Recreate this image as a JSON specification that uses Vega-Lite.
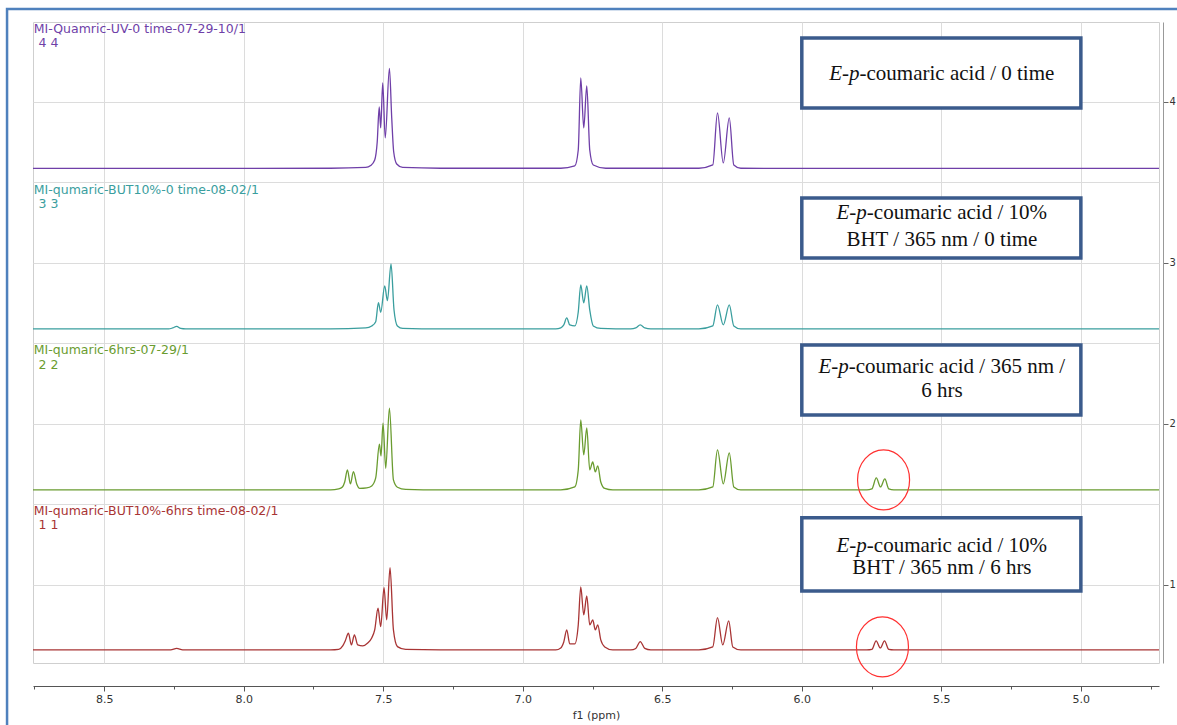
{
  "$schema": "https://vega.github.io/schema/vega-lite/v6.json",
  "width": 1126,
  "height": 641,
  "autosize": {"type": "none"},
  "padding": {"left": 33, "top": 22, "right": 18, "bottom": 62},
  "background": "white",
  "config": {"view": {"stroke": "#cfcfcf", "strokeWidth": 1}},
  "datasets": {
    "frame": [{"x": 8.848, "x2": 4.55, "y": 4.578, "y2": 0.0}],
    "spec": [
      {"s":"4","x":8.755,"y":3.5867},{"s":"4","x":7.6882,"y":3.5879},{"s":"4","x":7.5627,"y":3.5929},{"s":"4","x":7.5448,"y":3.6053},{"s":"4","x":7.5305,"y":3.6395},{"s":"4","x":7.5215,"y":3.7514},{"s":"4","x":7.5143,"y":3.9689},{"s":"4","x":7.509,"y":3.8384},{"s":"4","x":7.5018,"y":4.1181},{"s":"4","x":7.4928,"y":3.7763},{"s":"4","x":7.4778,"y":4.2082},{"s":"4","x":7.4695,"y":3.9006},{"s":"4","x":7.4624,"y":3.6892},{"s":"4","x":7.4516,"y":3.6147},{"s":"4","x":7.4301,"y":3.5929},{"s":"4","x":7.2939,"y":3.5879},{"s":"4","x":6.8638,"y":3.5879},{"s":"4","x":6.8136,"y":3.6022},{"s":"4","x":6.8011,"y":3.7017},{"s":"4","x":6.7921,"y":4.1492},{"s":"4","x":6.7814,"y":3.8384},{"s":"4","x":6.7706,"y":4.0994},{"s":"4","x":6.7599,"y":3.7017},{"s":"4","x":6.7473,"y":3.6085},{"s":"4","x":6.7025,"y":3.5879},{"s":"4","x":6.3688,"y":3.5879},{"s":"4","x":6.319,"y":3.6085},{"s":"4","x":6.3022,"y":3.9316},{"s":"4","x":6.2814,"y":3.6209},{"s":"4","x":6.2599,"y":3.9006},{"s":"4","x":6.2437,"y":3.6085},{"s":"4","x":6.2186,"y":3.5879},{"s":"4","x":4.72,"y":3.5867},
      {"s":"3","x":8.755,"y":2.5892},{"s":"3","x":8.2688,"y":2.5892},{"s":"3","x":8.2545,"y":2.5954},{"s":"3","x":8.2401,"y":2.6047},{"s":"3","x":8.2258,"y":2.5923},{"s":"3","x":8.2079,"y":2.5892},{"s":"3","x":7.6882,"y":2.5892},{"s":"3","x":7.5627,"y":2.5954},{"s":"3","x":7.5412,"y":2.6078},{"s":"3","x":7.5269,"y":2.6346},{"s":"3","x":7.5172,"y":2.7526},{"s":"3","x":7.509,"y":2.693},{"s":"3","x":7.4946,"y":2.8564},{"s":"3","x":7.4849,"y":2.7651},{"s":"3","x":7.472,"y":2.9932},{"s":"3","x":7.4613,"y":2.7073},{"s":"3","x":7.4491,"y":2.6078},{"s":"3","x":7.4301,"y":2.5923},{"s":"3","x":7.2939,"y":2.5892},{"s":"3","x":6.8817,"y":2.5892},{"s":"3","x":6.8638,"y":2.5954},{"s":"3","x":6.853,"y":2.6141},{"s":"3","x":6.8423,"y":2.6576},{"s":"3","x":6.8315,"y":2.6141},{"s":"3","x":6.8136,"y":2.6078},{"s":"3","x":6.8011,"y":2.6948},{"s":"3","x":6.7921,"y":2.8627},{"s":"3","x":6.7814,"y":2.7508},{"s":"3","x":6.7706,"y":2.8564},{"s":"3","x":6.7599,"y":2.7073},{"s":"3","x":6.7473,"y":2.6078},{"s":"3","x":6.7204,"y":2.5923},{"s":"3","x":6.6129,"y":2.5892},{"s":"3","x":6.595,"y":2.5954},{"s":"3","x":6.5789,"y":2.6141},{"s":"3","x":6.5627,"y":2.5954},{"s":"3","x":6.5412,"y":2.5892},{"s":"3","x":6.3688,"y":2.5892},{"s":"3","x":6.319,"y":2.6078},{"s":"3","x":6.3022,"y":2.7383},{"s":"3","x":6.2814,"y":2.6141},{"s":"3","x":6.2599,"y":2.7383},{"s":"3","x":6.2437,"y":2.6078},{"s":"3","x":6.2186,"y":2.5892},{"s":"3","x":4.72,"y":2.5892},
      {"s":"2","x":8.755,"y":1.5886},{"s":"2","x":7.6882,"y":1.5886},{"s":"2","x":7.6595,"y":1.5948},{"s":"2","x":7.6462,"y":1.6072},{"s":"2","x":7.638,"y":1.6383},{"s":"2","x":7.6283,"y":1.7129},{"s":"2","x":7.6176,"y":1.6259},{"s":"2","x":7.6068,"y":1.7023},{"s":"2","x":7.595,"y":1.6259},{"s":"2","x":7.5842,"y":1.5979},{"s":"2","x":7.5591,"y":1.601},{"s":"2","x":7.5412,"y":1.6134},{"s":"2","x":7.5269,"y":1.6631},{"s":"2","x":7.5136,"y":1.8726},{"s":"2","x":7.5079,"y":1.7999},{"s":"2","x":7.5007,"y":2.0031},{"s":"2","x":7.491,"y":1.7234},{"s":"2","x":7.4778,"y":2.0963},{"s":"2","x":7.4634,"y":1.6507},{"s":"2","x":7.4491,"y":1.6053},{"s":"2","x":7.4194,"y":1.5917},{"s":"2","x":7.2939,"y":1.5886},{"s":"2","x":6.8638,"y":1.5886},{"s":"2","x":6.8136,"y":1.6072},{"s":"2","x":6.8011,"y":1.7129},{"s":"2","x":6.7921,"y":2.0236},{"s":"2","x":6.7814,"y":1.8061},{"s":"2","x":6.7706,"y":1.9739},{"s":"2","x":6.7599,"y":1.7129},{"s":"2","x":6.7491,"y":1.7626},{"s":"2","x":6.7401,"y":1.7004},{"s":"2","x":6.7312,"y":1.7377},{"s":"2","x":6.7204,"y":1.6383},{"s":"2","x":6.7061,"y":1.5979},{"s":"2","x":6.6774,"y":1.5886},{"s":"2","x":6.3688,"y":1.5886},{"s":"2","x":6.319,"y":1.6072},{"s":"2","x":6.3022,"y":1.8372},{"s":"2","x":6.2814,"y":1.6259},{"s":"2","x":6.2599,"y":1.8185},{"s":"2","x":6.2437,"y":1.6072},{"s":"2","x":6.2186,"y":1.5886},{"s":"2","x":5.767,"y":1.5886},{"s":"2","x":5.7491,"y":1.5948},{"s":"2","x":5.733,"y":1.6631},{"s":"2","x":5.7179,"y":1.6072},{"s":"2","x":5.7025,"y":1.6569},{"s":"2","x":5.6882,"y":1.5948},{"s":"2","x":5.6703,"y":1.5886},{"s":"2","x":4.72,"y":1.5886},
      {"s":"1","x":8.755,"y":0.5942},{"s":"1","x":8.2616,"y":0.5942},{"s":"1","x":8.2401,"y":0.6035},{"s":"1","x":8.2186,"y":0.5942},{"s":"1","x":7.6882,"y":0.5942},{"s":"1","x":7.6595,"y":0.5973},{"s":"1","x":7.6452,"y":0.619},{"s":"1","x":7.6362,"y":0.6501},{"s":"1","x":7.6247,"y":0.698},{"s":"1","x":7.614,"y":0.6252},{"s":"1","x":7.6032,"y":0.6874},{"s":"1","x":7.5914,"y":0.6252},{"s":"1","x":7.5735,"y":0.619},{"s":"1","x":7.5566,"y":0.6358},{"s":"1","x":7.5412,"y":0.6687},{"s":"1","x":7.5305,"y":0.7185},{"s":"1","x":7.5186,"y":0.8533},{"s":"1","x":7.509,"y":0.739},{"s":"1","x":7.4971,"y":0.9813},{"s":"1","x":7.4875,"y":0.7806},{"s":"1","x":7.4756,"y":1.1057},{"s":"1","x":7.4634,"y":0.7185},{"s":"1","x":7.4491,"y":0.6147},{"s":"1","x":7.4194,"y":0.5973},{"s":"1","x":7.2939,"y":0.5942},{"s":"1","x":6.8817,"y":0.5942},{"s":"1","x":6.8638,"y":0.6066},{"s":"1","x":6.853,"y":0.6439},{"s":"1","x":6.8423,"y":0.7185},{"s":"1","x":6.8315,"y":0.6315},{"s":"1","x":6.8136,"y":0.6315},{"s":"1","x":6.8011,"y":0.7495},{"s":"1","x":6.7921,"y":0.9857},{"s":"1","x":6.7814,"y":0.8117},{"s":"1","x":6.7706,"y":0.9298},{"s":"1","x":6.7599,"y":0.7495},{"s":"1","x":6.7491,"y":0.7806},{"s":"1","x":6.7401,"y":0.7185},{"s":"1","x":6.7312,"y":0.7495},{"s":"1","x":6.7204,"y":0.6563},{"s":"1","x":6.7061,"y":0.6128},{"s":"1","x":6.6774,"y":0.5942},{"s":"1","x":6.6129,"y":0.5942},{"s":"1","x":6.595,"y":0.6035},{"s":"1","x":6.5789,"y":0.6458},{"s":"1","x":6.5627,"y":0.6035},{"s":"1","x":6.5412,"y":0.5942},{"s":"1","x":6.3688,"y":0.5942},{"s":"1","x":6.319,"y":0.6128},{"s":"1","x":6.3022,"y":0.7949},{"s":"1","x":6.2832,"y":0.6252},{"s":"1","x":6.262,"y":0.7744},{"s":"1","x":6.2473,"y":0.6128},{"s":"1","x":6.2186,"y":0.5942},{"s":"1","x":5.767,"y":0.5942},{"s":"1","x":5.7491,"y":0.5973},{"s":"1","x":5.7337,"y":0.6501},{"s":"1","x":5.7186,"y":0.6066},{"s":"1","x":5.7036,"y":0.6501},{"s":"1","x":5.6882,"y":0.5973},{"s":"1","x":5.6703,"y":0.5942},{"s":"1","x":4.72,"y":0.5942}
    ],
    "lab": [
      {"s":"4","x":8.752,"y":4.454,"t":"MI-Quamric-UV-0 time-07-29-10/1"},
      {"s":"4","x":8.735,"y":4.367,"t":"4 4"},
      {"s":"3","x":8.752,"y":3.454,"t":"MI-qumaric-BUT10%-0 time-08-02/1"},
      {"s":"3","x":8.735,"y":3.367,"t":"3 3"},
      {"s":"2","x":8.752,"y":2.456,"t":"MI-qumaric-6hrs-07-29/1"},
      {"s":"2","x":8.735,"y":2.367,"t":"2 2"},
      {"s":"1","x":8.752,"y":1.456,"t":"MI-qumaric-BUT10%-6hrs time-08-02/1"},
      {"s":"1","x":8.735,"y":1.369,"t":"1 1"}
    ],
    "box": [
      {"x":6.0,"x2":5.0,"y":4.398,"y2":3.963},
      {"x":6.0,"x2":5.0,"y":3.403,"y2":3.03},
      {"x":6.0,"x2":5.0,"y":2.49,"y2":2.055},
      {"x":6.0,"x2":5.0,"y":1.415,"y2":0.961}
    ],
    "bt": [
      {"k":"i","x":5.9018,"y":4.174,"t":"E"},{"k":"n","x":5.8558,"y":4.174,"t":"-"},{"k":"i","x":5.8308,"y":4.174,"t":"p"},{"k":"n","x":5.7931,"y":4.174,"t":"-coumaric acid / 0 time"},
      {"k":"i","x":5.8756,"y":3.31,"t":"E"},{"k":"n","x":5.8296,"y":3.31,"t":"-"},{"k":"i","x":5.8046,"y":3.31,"t":"p"},{"k":"n","x":5.767,"y":3.31,"t":"-coumaric acid / 10%"},
      {"k":"c","x":5.498,"y":3.142,"t":"BHT / 365 nm / 0 time"},
      {"k":"i","x":5.9405,"y":2.353,"t":"E"},{"k":"n","x":5.8945,"y":2.353,"t":"-"},{"k":"i","x":5.8695,"y":2.353,"t":"p"},{"k":"n","x":5.8318,"y":2.353,"t":"-coumaric acid / 365 nm /"},
      {"k":"c","x":5.498,"y":2.204,"t":"6 hrs"},
      {"k":"i","x":5.8756,"y":1.241,"t":"E"},{"k":"n","x":5.8296,"y":1.241,"t":"-"},{"k":"i","x":5.8046,"y":1.241,"t":"p"},{"k":"n","x":5.767,"y":1.241,"t":"-coumaric acid / 10%"},
      {"k":"c","x":5.498,"y":1.104,"t":"BHT / 365 nm / 6 hrs"}
    ],
    "circ": [
      {"x":5.707,"y":1.651},
      {"x":5.711,"y":0.613}
    ]
  },
  "encoding": {
    "x": {
      "field": "x", "type": "quantitative",
      "scale": {"domain": [4.72, 8.755], "reverse": true, "nice": false, "zero": false},
      "axis": {
        "orient": "bottom", "offset": 23,
        "values": [4.75,5,5.25,5.5,5.75,6,6.25,6.5,6.75,7,7.25,7.5,7.75,8,8.25,8.5,8.75],
        "labelExpr": "(datum.value*2)%1===0 ? format(datum.value,'.1f') : ''",
        "labelOverlap": false, "labelFlush": false,
        "tickSize": {"condition": {"test": "(datum.value*2)%1===0", "value": 5}, "value": 3},
        "grid": true,
        "gridOpacity": {"condition": {"test": "(datum.value*2)%1===0", "value": 1}, "value": 0},
        "gridColor": "#dcdcdc",
        "domainColor": "#555", "tickColor": "#555",
        "labelFont": "DejaVu Sans", "labelFontSize": 11, "labelColor": "#333", "labelPadding": 2,
        "title": "f1 (ppm)", "titleFont": "DejaVu Sans", "titleFontSize": 11, "titleFontWeight": "normal", "titleColor": "#333", "titlePadding": 5
      }
    },
    "y": {
      "field": "y", "type": "quantitative",
      "scale": {"domain": [0.513, 4.497], "nice": false, "zero": false},
      "axis": {
        "orient": "right", "offset": 4,
        "values": [1,1.5,2,2.5,3,3.5,4],
        "labelExpr": "datum.value%1===0 ? format(datum.value,'d') : ''",
        "labelOverlap": false,
        "tickOpacity": {"condition": {"test": "datum.value%1===0", "value": 1}, "value": 0},
        "tickSize": 5, "grid": true, "gridColor": "#dcdcdc",
        "domainColor": "#999", "tickColor": "#666",
        "labelFont": "DejaVu Sans", "labelFontSize": 10, "labelColor": "#333", "labelPadding": 1,
        "title": null
      }
    }
  },
  "layer": [
    {
      "data": {"name": "frame"},
      "mark": {"type": "rect", "fill": "white", "fillOpacity": 0, "stroke": "#4f81bd", "strokeWidth": 2.5, "clip": false},
      "encoding": {"x2": {"field": "x2"}, "y2": {"field": "y2"}}
    },
    {
      "data": {"name": "spec"},
      "mark": {"type": "line", "interpolate": "monotone", "strokeWidth": 1.3},
      "encoding": {
        "color": {"field": "s", "type": "nominal", "scale": {"domain": ["4","3","2","1"], "range": ["#6f3fa8","#3a9e9e","#6a9c30","#a83434"]}, "legend": null}
      }
    },
    {
      "data": {"name": "lab"},
      "mark": {"type": "text", "align": "left", "baseline": "middle", "font": "DejaVu Sans", "fontSize": 12.5},
      "encoding": {
        "text": {"field": "t"},
        "color": {"field": "s", "type": "nominal", "legend": null}
      }
    },
    {
      "data": {"name": "box"},
      "mark": {"type": "rect", "fill": "white", "stroke": "#3b5b8c", "strokeWidth": 3.5},
      "encoding": {"x2": {"field": "x2"}, "y2": {"field": "y2"}}
    },
    {
      "data": {"name": "bt"},
      "transform": [{"filter": "datum.k === 'i'"}],
      "mark": {"type": "text", "align": "left", "baseline": "middle", "font": "Liberation Serif", "fontSize": 21, "fontStyle": "italic", "color": "#111"},
      "encoding": {"text": {"field": "t"}}
    },
    {
      "data": {"name": "bt"},
      "transform": [{"filter": "datum.k === 'n'"}],
      "mark": {"type": "text", "align": "left", "baseline": "middle", "font": "Liberation Serif", "fontSize": 21, "color": "#111"},
      "encoding": {"text": {"field": "t"}}
    },
    {
      "data": {"name": "bt"},
      "transform": [{"filter": "datum.k === 'c'"}],
      "mark": {"type": "text", "align": "center", "baseline": "middle", "font": "Liberation Serif", "fontSize": 21, "color": "#111"},
      "encoding": {"text": {"field": "t"}}
    },
    {
      "data": {"name": "circ"},
      "mark": {"type": "point", "shape": "M -0.867 0 A 0.867 1 0 1 0 0.867 0 A 0.867 1 0 1 0 -0.867 0 Z", "size": 3600, "filled": false, "stroke": "#ff3030", "strokeWidth": 1.2, "opacity": 1},
      "encoding": {}
    }
  ]
}
